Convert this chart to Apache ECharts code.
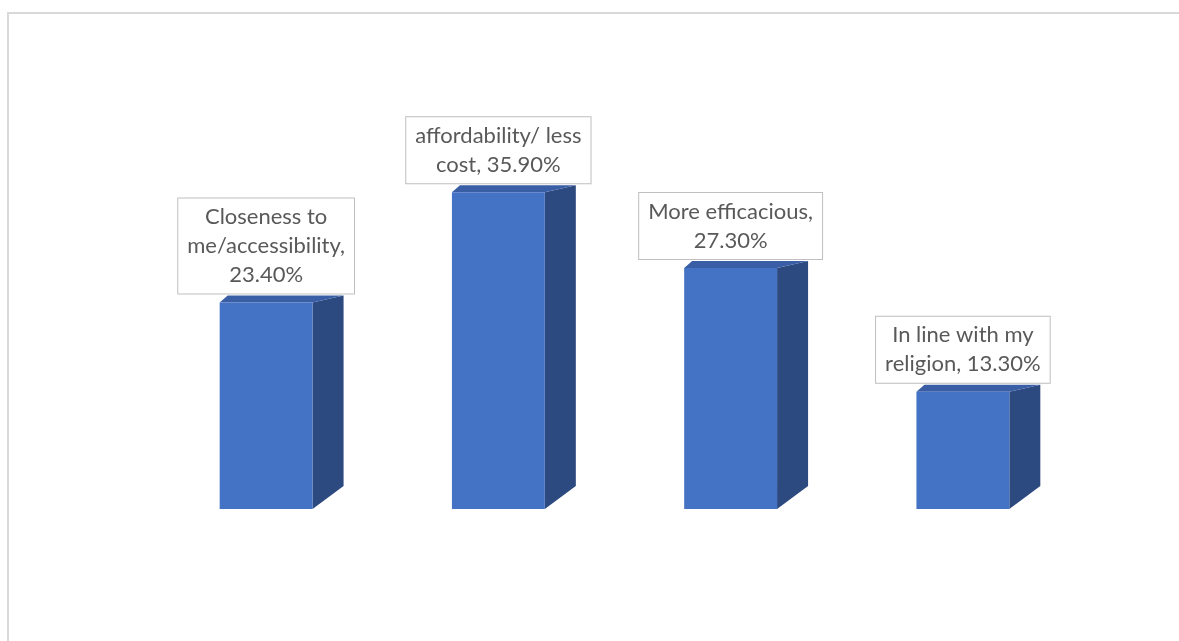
<!DOCTYPE html>
<html>
<head>
<meta charset="utf-8">
<script src="https://cdn.jsdelivr.net/npm/echarts@6/dist/echarts.min.js"></script>
<style>
  html, body { margin: 0; padding: 0; background: #ffffff; }
  #chart { width: 1179px; height: 641px; }
</style>
</head>
<body>
<div id="chart"></div>
<script>
// Data
const categories = ['Closeness to\nme/accessibility', 'affordability/ less\ncost', 'More efficacious', 'In line with my\nreligion'];
const values = [23.4, 35.9, 27.3, 13.3];
const valueSeparators = ['\n', ' ', '\n', ' '];

const FRONT = '#4472C4';
const SIDE = '#2D4A80';
const TOP = '#3A5EA6';

const chart = echarts.init(document.getElementById('chart'), null, { renderer: 'canvas' });

function renderFaces(params, api) {
  const idx = api.value(0);
  const val = api.value(1);
  const top = api.coord([idx, val]);
  const bottom = api.coord([idx, 0]);
  const band = api.size([1, 0])[0];
  const w = band * 0.4;
  const x0 = top[0] - w / 2;
  const x1 = top[0] + w / 2;
  const yT = top[1];
  const yB = bottom[1];
  const dx = 31, dyTop = -7, dyBot = -23, dxLeft = 8;
  return {
    type: 'group',
    children: [
      {
        type: 'polygon',
        shape: { points: [[x1, yT], [x1 + dx, yT + dyTop], [x1 + dx, yB + dyBot], [x1, yB]] },
        style: { fill: SIDE }
      },
      {
        type: 'polygon',
        shape: { points: [[x0, yT], [x0 + dxLeft, yT + dyTop], [x1 + dx, yT + dyTop], [x1, yT]] },
        style: { fill: TOP }
      }
    ]
  };
}

const option = {
  backgroundColor: '#ffffff',
  animation: false,
  graphic: [{
    type: 'rect',
    shape: { x: 8, y: 13, width: 1300, height: 800 },
    style: { fill: 'none', stroke: '#D9D9D9', lineWidth: 2 },
    silent: true,
    z: -1
  }],
  grid: { left: 150, right: 100, top: 156, bottom: 132 },
  xAxis: {
    type: 'category',
    data: categories,
    show: false
  },
  yAxis: {
    type: 'value',
    min: 0,
    max: 40,
    show: false
  },
  series: [
    {
      type: 'custom',
      renderItem: renderFaces,
      data: values.map((v, i) => [i, v]),
      z: 1
    },
    {
      type: 'bar',
      data: values,
      barWidth: '40%',
      itemStyle: { color: FRONT },
      z: 2,
      label: {
        show: true,
        position: 'top',
        distance: 9,
        formatter: (p) => p.name + ',' + valueSeparators[p.dataIndex] + p.value.toFixed(2) + '%',
        fontFamily: 'Lato',
        fontSize: 22,
        lineHeight: 29,
        color: '#595959',
        backgroundColor: '#ffffff',
        borderColor: '#BFBFBF',
        borderWidth: 1,
        padding: [4, 9, 4, 9],
        align: 'center'
      }
    }
  ]
};

chart.setOption(option);
</script>
</body>
</html>
